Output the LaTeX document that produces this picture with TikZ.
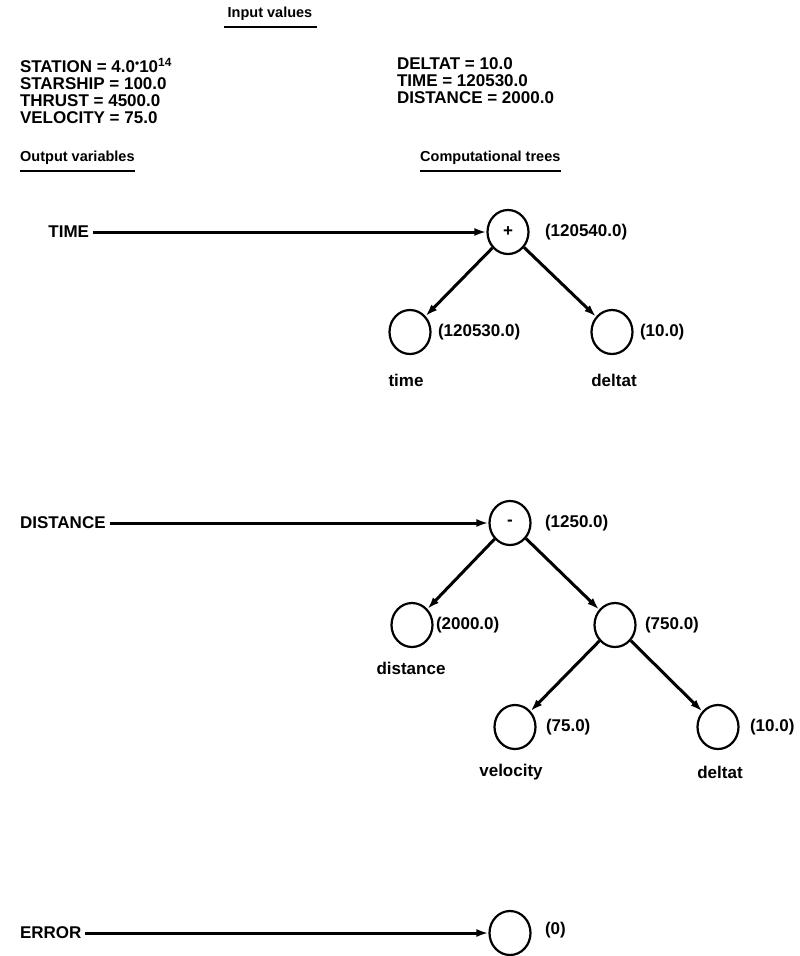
\documentclass[tikz,border=0pt]{standalone}
\usepackage{fontspec}
\setmainfont{Liberation Sans}
\usetikzlibrary{shapes.geometric,arrows.meta}
\begin{document}
\begin{tikzpicture}[x=1pt,y=-1pt,
  lbl/.style={font=\bfseries\fontsize{17}{17}\selectfont, inner sep=0pt, outer sep=0pt},
  hdr/.style={font=\bfseries\fontsize{14.5}{16}\selectfont, inner sep=0pt},
  uline/.style={line width=1.6pt},
  opnode/.style={draw, ellipse, minimum width=41pt, minimum height=44pt, line width=2.2pt, inner sep=0pt,
    font=\bfseries\fontsize{17}{18}\selectfont},
  conn/.style={line width=3pt, -{Latex[length=12pt,width=8pt]}, shorten <=4pt},
  tedge/.style={line width=3pt, -{Latex[length=12pt,width=8pt]}}]
\useasboundingbox (0,0) rectangle (800,956);

% header
\node[hdr] (iv) at (270,14) {Input values};
\draw[uline] ([xshift=-4pt,yshift=-6pt]iv.south west) -- ([xshift=4pt,yshift=-6pt]iv.south east);

\node[lbl, anchor=north west, align=left] (inl) at (20,58)
  {STATION = 4.0\raisebox{5pt}{\scalebox{0.7}{•}}10\textsuperscript{14}\\STARSHIP = 100.0\\THRUST = 4500.0\\VELOCITY = 75.0};
\node[lbl, anchor=north west, align=left] (inr) at (397,58)
  {DELTAT = 10.0\\TIME = 120530.0\\DISTANCE = 2000.0};

\node[hdr, anchor=west] (ov) at (20,158) {Output variables};
\draw[uline] ([yshift=-6pt]ov.south west) -- ([yshift=-6pt]ov.south east);
\node[hdr, anchor=west] (ct) at (420,158) {Computational trees};
\draw[uline] ([yshift=-6pt]ct.south west) -- ([yshift=-6pt]ct.south east);

% TIME tree
\node[lbl, anchor=east] (otime) at (89,232) {TIME};
\node[opnode] (tp) at (508,232) {+};
\node[lbl, anchor=west] (tpv) at (545,232) {(120540.0)};
\node[opnode] (tt) at (410,332) {};
\node[lbl, anchor=west] (ttv) at (438,332) {(120530.0)};
\node[lbl] (ttn) at (406,380) {time};
\node[opnode] (td) at (612,332) {};
\node[lbl, anchor=west] (tdv) at (640,332) {(10.0)};
\node[lbl] (tdn) at (614,380) {deltat};
\draw[conn] (otime.east) -- (tp.west);
\draw[tedge] (tp) -- (tt);
\draw[tedge] (tp) -- (td);

% DISTANCE tree
\node[lbl, anchor=west] (odist) at (20,523) {DISTANCE};
\node[opnode] (dm) at (510,523) {-};
\node[lbl, anchor=west] (dmv) at (545,523) {(1250.0)};
\node[opnode] (dd) at (412,625) {};
\node[lbl, anchor=west] (ddv) at (436,625) {(2000.0)};
\node[lbl] (ddn) at (411,668) {distance};
\node[opnode] (dx) at (615,625) {};
\node[lbl, anchor=west] (dxv) at (645,625) {(750.0)};
\node[opnode] (dv) at (515,727) {};
\node[lbl, anchor=west] (dvv) at (546,727) {(75.0)};
\node[lbl] (dvn) at (511,772) {velocity};
\node[opnode] (dt) at (718,727) {};
\node[lbl, anchor=west] (dtv) at (750,727) {(10.0)};
\node[lbl] (dtn) at (720,772) {deltat};
\draw[conn] (odist.east) -- (dm.west);
\draw[tedge] (dm) -- (dd);
\draw[tedge] (dm) -- (dx);
\draw[tedge] (dx) -- (dv);
\draw[tedge] (dx) -- (dt);

% ERROR
\node[lbl, anchor=west] (oerr) at (20,933) {ERROR};
\node[opnode] (eo) at (510,933) {};
\node[lbl, anchor=west] (eov) at (545,930) {(0)};
\draw[conn] (oerr.east) -- (eo.west);
\end{tikzpicture}
\end{document}
